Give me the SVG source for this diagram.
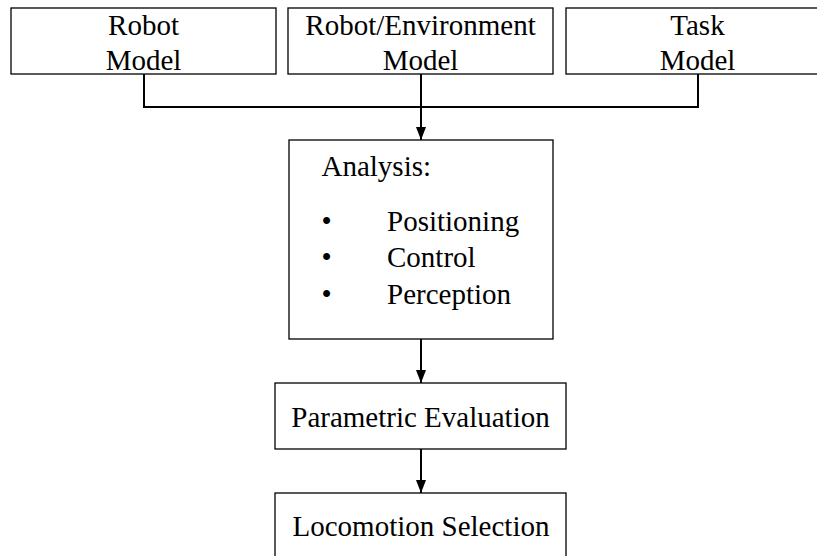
<svg xmlns="http://www.w3.org/2000/svg" width="817" height="556" viewBox="0 0 817 556">
  <style>
    .box { fill: #ffffff; stroke: #000000; stroke-width: 1.3; }
    .lbl { font-family: "Liberation Serif", "Times New Roman", serif; font-size: 29px; fill: #000000; }
    .mid { text-anchor: middle; }
    .wire { fill: none; stroke: #000000; stroke-width: 2; }
  </style>
  <defs>
    <marker id="arrow" viewBox="0 0 13 10" refX="13" refY="5" markerWidth="13" markerHeight="10" markerUnits="userSpaceOnUse" orient="auto">
      <path d="M0,0 L13,5 L0,10 Z" fill="#000000"/>
    </marker>
  </defs>
  <rect width="817" height="556" fill="#ffffff"/>

  <g id="connectors">
    <polyline class="wire" points="144,74 144,107 698,107 698,74"/>
    <line class="wire" x1="421" y1="74" x2="421" y2="140" marker-end="url(#arrow)"/>
    <line class="wire" x1="421" y1="339" x2="421" y2="383" marker-end="url(#arrow)"/>
    <line class="wire" x1="421" y1="449" x2="421" y2="493" marker-end="url(#arrow)"/>
  </g>

  <g id="robot-model">
    <rect class="box" x="11" y="8" width="265" height="66"/>
    <text class="lbl mid" x="143.5" y="35">Robot</text>
    <text class="lbl mid" x="143.5" y="70">Model</text>
  </g>

  <g id="robot-environment-model">
    <rect class="box" x="288" y="8" width="265" height="66"/>
    <text class="lbl mid" x="420.5" y="35">Robot/Environment</text>
    <text class="lbl mid" x="420.5" y="70">Model</text>
  </g>

  <g id="task-model">
    <rect class="box" x="566" y="8" width="263" height="66"/>
    <text class="lbl mid" x="697.5" y="35">Task</text>
    <text class="lbl mid" x="697.5" y="70">Model</text>
  </g>

  <g id="analysis">
    <rect class="box" x="289" y="140" width="264" height="199"/>
    <text class="lbl" x="321.5" y="176">Analysis:</text>
    <text class="lbl" x="321.5" y="230.5">•</text>
    <text class="lbl" x="387" y="230.5">Positioning</text>
    <text class="lbl" x="321.5" y="267">•</text>
    <text class="lbl" x="387" y="267">Control</text>
    <text class="lbl" x="321.5" y="303.5">•</text>
    <text class="lbl" x="387" y="303.5">Perception</text>
  </g>

  <g id="parametric-evaluation">
    <rect class="box" x="275" y="383" width="291" height="66"/>
    <text class="lbl mid" x="420.5" y="427">Parametric Evaluation</text>
  </g>

  <g id="locomotion-selection">
    <rect class="box" x="275" y="493" width="291" height="80"/>
    <text class="lbl mid" x="421" y="536">Locomotion Selection</text>
  </g>
</svg>
